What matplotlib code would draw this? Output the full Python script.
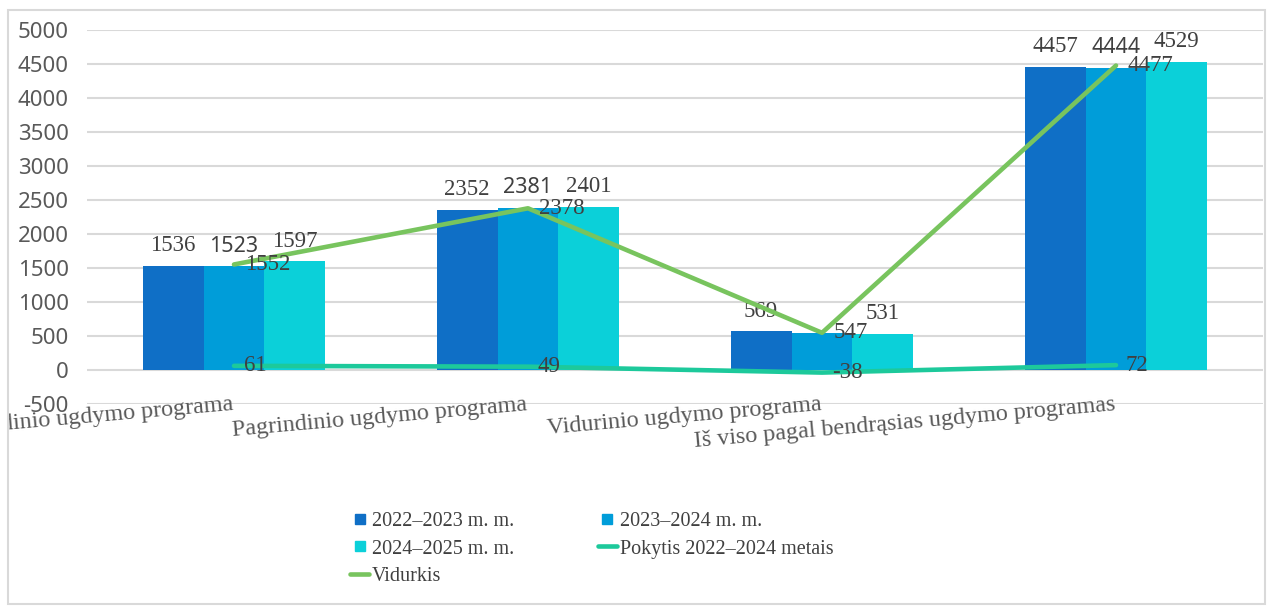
import matplotlib
matplotlib.use("Agg")
import matplotlib.pyplot as plt
from matplotlib.patches import Rectangle
from matplotlib.lines import Line2D

categories = ["Pradinio ugdymo programa", "Pagrindinio ugdymo programa",
              "Vidurinio ugdymo programa", "Iš viso pagal bendrąsias ugdymo programas"]
series_names = ["2022–2023 m. m.", "2023–2024 m. m.", "2024–2025 m. m."]
y2022 = [1536, 2352, 569, 4457]
y2023 = [1523, 2381, 547, 4444]
y2024 = [1597, 2401, 531, 4529]
pokytis = [61, 49, -38, 72]
vidurkis = [1552, 2378, 547, 4477]
yticks = [-500, 0, 500, 1000, 1500, 2000, 2500, 3000, 3500, 4000, 4500, 5000]

bar_colors = ["#0F6FC6", "#009DD9", "#0BD0D9"]
c_pok = "#1DC99B"
c_vid = "#78C45E"
serif = "Liberation Serif"
sans = "Noto Sans"
txt = "#404040"

W, H = 1270, 612
fig = plt.figure(figsize=(W / 100, H / 100), dpi=100)
ax = fig.add_axes([87 / W, 1 - 404 / H, 1176 / W, 374 / H])

border = Rectangle((8 / W, 1 - 604 / H), 1257 / W, 594 / H, transform=fig.transFigure,
                   fill=False, edgecolor="#D9D9D9", lw=1.5)
fig.patches.append(border)

x = list(range(len(categories)))
bw = 0.207
for k, vals in enumerate([y2022, y2023, y2024]):
    xs = [i + (k - 1) * bw for i in x]
    ax.bar(xs, vals, width=bw, color=bar_colors[k], zorder=2, label=series_names[k])
    fam = sans if k == 1 else serif
    fs = 15.5 if k == 1 else 16.5
    for j, (xi, v) in enumerate(zip(xs, vals)):
        if k == 1 and j == 2:
            continue  # hidden behind the Vidurkis label in the original
        ax.annotate(str(v), (xi, v), xytext=(0, 7), textcoords="offset points",
                    ha="center", va="bottom", fontsize=fs, family=fam, color=txt)

ax.plot(x, pokytis, color=c_pok, lw=3.3, solid_capstyle="round", zorder=3)
ax.plot(x, vidurkis, color=c_vid, lw=3.3, solid_capstyle="round", zorder=4)
for xi, v in zip(x, pokytis):
    ax.annotate(str(v), (xi, v), xytext=(7, 0), textcoords="offset points",
                ha="left", va="center", fontsize=16.5, family=serif, color=txt, zorder=5)
for xi, v in zip(x, vidurkis):
    ax.annotate(str(v), (xi, v), xytext=(8, 0), textcoords="offset points",
                ha="left", va="center", fontsize=16.5, family=serif, color=txt, zorder=5)

ax.set_xlim(-0.5, 3.5)
ax.set_ylim(-500, 5000)
ax.set_yticks(yticks)
ax.set_yticklabels([str(t) for t in yticks], family=sans, fontsize=16, color="#595959")
ax.tick_params(axis="y", length=0, pad=13)
ax.set_xticks([])
ax.grid(axis="y", color="#D9D9D9", lw=1.5, zorder=0)
for s in ax.spines.values():
    s.set_visible(False)

# category labels sit rotated under the plot; the first one is cut by the chart border
for i, c in enumerate(categories):
    t = ax.text(i, -588, c, rotation=5, rotation_mode="anchor", ha="right", va="baseline",
                fontsize=17.4, family=serif, color="#595959")
    t.set_clip_path(border)
    t.set_clip_on(True)

handles = [
    Line2D([], [], marker="s", ls="none", ms=7.5, color=bar_colors[0]),
    Line2D([], [], marker="s", ls="none", ms=7.5, color=bar_colors[2]),
    Line2D([], [], color=c_vid, lw=3.3, solid_capstyle="round"),
    Line2D([], [], marker="s", ls="none", ms=7.5, color=bar_colors[1]),
    Line2D([], [], color=c_pok, lw=3.3, solid_capstyle="round"),
]
labels = [series_names[0], series_names[2], "Vidurkis", series_names[1], "Pokytis 2022–2024 metais"]
fig.legend(handles, labels, loc="center", bbox_to_anchor=(0.466, 0.103), ncol=2, frameon=False,
           prop={"family": serif, "size": 14.5}, labelcolor=txt, handlelength=0.9,
           handletextpad=0.15, columnspacing=4.2, labelspacing=0.42)

fig.savefig("out.png", dpi=100)
